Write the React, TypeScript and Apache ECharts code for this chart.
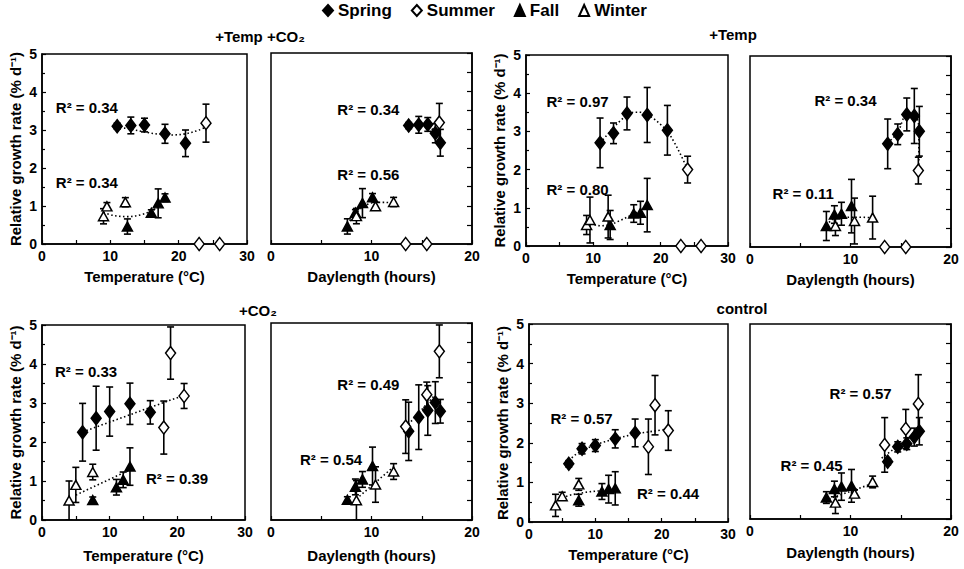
import React, { useEffect, useRef } from "react";
import * as echarts from "echarts";

// ---------- sampling x-values ----------
// ambient water temperature (°C) of each sampling, per season
const springAmbientTemp = [6, 8, 10, 13, 16];
const summerAmbientTemp = [18, 19, 21];
const fallAmbientTemp = [7.5, 11, 12, 13];
const winterAmbientTemp = [4, 5, 7.5];
// warmed temperature (°C)
const springWarmTemp = [11, 13, 15, 18, 21];
const summerWarmTemp = [23, 24, 26];
const fallWarmTemp = [12.5, 16, 17, 18];
const winterWarmTemp = [9, 9.5, 12.2];
// daylength (hours)
const springDaylength = [13.7, 14.7, 15.6, 16.35, 16.85];
const summerDaylength = [13.4, 16.75, 15.5];
const fallDaylength = [7.6, 8.4, 9.1, 10.1];
const winterDaylength = [8.5, 10.4, 12.2];

// ---------- relative growth rate (% d-1) and error ----------
// +Temp +CO2
const tcSpring = [3.1, 3.12, 3.13, 2.9, 2.65];
const tcSpringErr = [0.08, 0.22, 0.18, 0.25, 0.35];
const tcSummer = [0, 3.18, 0];
const tcSummerErr = [0, 0.5, 0];
const tcFall = [0.46, 0.82, 1.07, 1.22];
const tcFallErr = [0.2, 0.08, 0.38, 0.1];
const tcWinter = [0.73, 0.99, 1.1];
const tcWinterErr = [0.2, 0.1, 0.12];
// +Temp
const tSpring = [2.7, 2.95, 3.47, 3.43, 3.03];
const tSpringErr = [0.65, 0.27, 0.43, 0.72, 0.65];
const tSummer = [0, 2.0, 0];
const tSummerErr = [0, 0.35, 0];
const tFall = [0.55, 0.85, 0.87, 1.07];
const tFallErr = [0.38, 0.23, 0.3, 0.7];
const tWinter = [0.55, 0.68, 0.77];
const tWinterErr = [0.25, 0.6, 0.56];
// +CO2
const cSpring = [2.25, 2.61, 2.78, 2.98, 2.76];
const cSpringErr = [0.74, 0.82, 0.63, 0.53, 0.3];
const cSummer = [2.37, 4.28, 3.18];
const cSummerErr = [0.68, 0.67, 0.32];
const cFall = [0.51, 0.84, 1.03, 1.37];
const cFallErr = [0.08, 0.2, 0.2, 0.48];
const cWinter = [0.5, 0.9, 1.23];
const cWinterErr = [0.5, 0.45, 0.2];
// control
const ctSpring = [1.47, 1.85, 1.93, 2.1, 2.25];
const ctSpringErr = [0.08, 0.13, 0.15, 0.23, 0.35];
const ctSummer = [1.9, 2.95, 2.31];
const ctSummerErr = [0.7, 0.75, 0.5];
const ctFall = [0.55, 0.77, 0.83, 0.85];
const ctFallErr = [0.15, 0.2, 0.35, 0.42];
const ctWinter = [0.42, 0.65, 0.95];
const ctWinterErr = [0.28, 0.1, 0.15];

// ---------- fitted trend curves ----------
const p1TrendWarm = [[12, 3.05], [13, 3.02], [15, 2.95], [17, 2.89], [19, 2.87], [21, 2.9], [23, 3.0], [24, 3.08]];
const p1TrendCold = [[9, 0.83], [10.5, 0.75], [12.5, 0.72], [14.5, 0.77], [16, 0.87], [17, 0.98], [18, 1.15]];
const p2TrendWarm = [[13.7, 3.12], [14.7, 3.13], [15.6, 3.08], [16.35, 2.93], [16.85, 2.72]];
const p2TrendCold = [[7.6, 0.52], [8.3, 0.76], [9, 0.94], [9.7, 1.05], [10.4, 1.09], [11.3, 1.09], [12.2, 1.07]];
const p3TrendWarm = [[11, 2.7], [12, 2.9], [13, 3.1], [14, 3.28], [15, 3.42], [16, 3.5], [17, 3.5], [18, 3.44], [19, 3.33], [20, 3.18], [21, 3.0], [22, 2.72], [23, 2.38], [24, 2.0]];
const p3TrendCold = [[9, 0.6], [10, 0.56], [11, 0.53], [12.5, 0.56], [14, 0.67], [16, 0.84], [17, 0.94], [18, 1.05]];
const p4TrendWarm = [[13.7, 2.72], [14.7, 3.0], [15.6, 3.46], [16.35, 3.46], [16.8, 3.1], [16.8, 2.0]];
const p4TrendCold = [[7.6, 0.56], [8.1, 0.7], [8.6, 0.76], [9.5, 0.78], [10.5, 0.78], [12.2, 0.77]];
const p5TrendWarm = [[6, 2.26], [21, 3.2]];
const p5TrendCold = [[5, 0.64], [12.8, 1.27]];
const p6TrendWarm = [[13.4, 2.35], [16.3, 3.17]];
const p6TrendCold = [[8.2, 0.47], [12.2, 1.35]];
const p7TrendWarm = [[6, 1.55], [7, 1.7], [8, 1.8], [10, 1.95], [13, 2.1], [16, 2.22], [19, 2.3], [21, 2.35]];
const p7TrendCold = [[4, 0.5], [5, 0.6], [6, 0.67], [7.5, 0.72], [9, 0.76], [11, 0.79], [13, 0.81]];
const p8TrendWarm = [[13.1, 1.56], [16.8, 2.28]];
const p8TrendCold = [[7.5, 0.48], [12.3, 0.92]];

// ---------- R² annotations [x, y, value] ----------
const p1R2 = [[1.95, 3.58, "0.34"], [1.95, 1.62, "0.34"]];
const p2R2 = [[6.55, 3.53, "0.34"], [6.55, 1.83, "0.56"]];
const p3R2 = [[2.97, 3.78, "0.97"], [2.97, 1.47, "0.80"]];
const p4R2 = [[6.36, 3.84, "0.34"], [2.2, 1.4, "0.11"]];
const p5R2 = [[1.85, 3.8, "0.33"], [15.3, 1.07, "0.39"]];
const p6R2 = [[6.55, 3.43, "0.49"], [2.84, 1.54, "0.54"]];
const p7R2 = [[3.17, 2.62, "0.57"], [16.2, 0.72, "0.44"]];
const p8R2 = [[7.87, 3.23, "0.57"], [2.99, 1.38, "0.45"]];

// ---------- axis ticks / labels ----------
const seasonNames = ["Spring", "Summer", "Fall", "Winter"];
const tempRange = [0, 30];
const dayRange = [0, 20];
const rateRange = [0, 5];
const panelTitles = ["+Temp +CO₂", "+Temp", "+CO₂", "control"];
const tempName = "Temperature (°C)";
const dayName = "Daylength (hours)";
const rateName = "Relative growth rate (% d⁻¹)";

const FONT = "Liberation Sans";

type Treat = { spring: number[][]; summer: number[][]; fall: number[][]; winter: number[][] };
const zip3 = (xs: number[], ys: number[], es: number[]) => xs.map((x, i) => [x, ys[i], es[i]]);

function treatment(
  kind: "temp" | "day",
  warm: boolean,
  sp: number[], spE: number[], su: number[], suE: number[],
  fa: number[], faE: number[], wi: number[], wiE: number[]
): Treat {
  const xs =
    kind === "day"
      ? [springDaylength, summerDaylength, fallDaylength, winterDaylength]
      : warm
      ? [springWarmTemp, summerWarmTemp, fallWarmTemp, winterWarmTemp]
      : [springAmbientTemp, summerAmbientTemp, fallAmbientTemp, winterAmbientTemp];
  return {
    spring: zip3(xs[0], sp, spE),
    summer: zip3(xs[1], su, suE),
    fall: zip3(xs[2], fa, faE),
    winter: zip3(xs[3], wi, wiE),
  };
}

const tcArgs = [tcSpring, tcSpringErr, tcSummer, tcSummerErr, tcFall, tcFallErr, tcWinter, tcWinterErr] as const;
const tArgs = [tSpring, tSpringErr, tSummer, tSummerErr, tFall, tFallErr, tWinter, tWinterErr] as const;
const cArgs = [cSpring, cSpringErr, cSummer, cSummerErr, cFall, cFallErr, cWinter, cWinterErr] as const;
const ctArgs = [ctSpring, ctSpringErr, ctSummer, ctSummerErr, ctFall, ctFallErr, ctWinter, ctWinterErr] as const;

// layout (pixels)
const panels = [
  { grid: { left: 42, top: 54, width: 205, height: 190 }, kind: "temp", nameGap: 25, data: treatment("temp", true, ...(tcArgs as any)), trends: [p1TrendWarm, p1TrendCold], r2: p1R2 },
  { grid: { left: 271, top: 53, width: 201, height: 191 }, kind: "day", nameGap: 25, data: treatment("day", true, ...(tcArgs as any)), trends: [p2TrendWarm, p2TrendCold], r2: p2R2 },
  { grid: { left: 526, top: 55, width: 202, height: 191 }, kind: "temp", nameGap: 25, data: treatment("temp", true, ...(tArgs as any)), trends: [p3TrendWarm, p3TrendCold], r2: p3R2 },
  { grid: { left: 750, top: 56, width: 201, height: 191 }, kind: "day", nameGap: 25, data: treatment("day", true, ...(tArgs as any)), trends: [p4TrendWarm, p4TrendCold], r2: p4R2 },
  { grid: { left: 42, top: 325, width: 203, height: 195 }, kind: "temp", nameGap: 28, data: treatment("temp", false, ...(cArgs as any)), trends: [p5TrendWarm, p5TrendCold], r2: p5R2 },
  { grid: { left: 271, top: 323, width: 201, height: 197 }, kind: "day", nameGap: 28, data: treatment("day", false, ...(cArgs as any)), trends: [p6TrendWarm, p6TrendCold], r2: p6R2 },
  { grid: { left: 529, top: 324, width: 199, height: 198 }, kind: "temp", nameGap: 25, data: treatment("temp", false, ...(ctArgs as any)), trends: [p7TrendWarm, p7TrendCold], r2: p7R2 },
  { grid: { left: 750, top: 324, width: 201, height: 195 }, kind: "day", nameGap: 26, data: treatment("day", false, ...(ctArgs as any)), trends: [p8TrendWarm, p8TrendCold], r2: p8R2 },
];

const titlePos = [
  { x: 260, y: 36 },
  { x: 733, y: 34 },
  { x: 258, y: 310 },
  { x: 742, y: 308 },
];

const seasonStyle: Record<string, any> = {
  Spring: { symbol: "diamond", size: [10, 13], fill: "#000" },
  Summer: { symbol: "diamond", size: [10, 13], fill: "#fff" },
  Fall: { symbol: "triangle", size: [10, 9], fill: "#000" },
  Winter: { symbol: "triangle", size: [10, 9], fill: "#fff" },
};

function errorRender(params: any, api: any) {
  const x = api.value(0);
  const y = api.value(1);
  const e = api.value(2);
  if (!e) return { type: "group", children: [] };
  const top = api.coord([x, y + e]);
  const bot = api.coord([x, y - e]);
  const hw = 3.5;
  const st = { stroke: "#000", lineWidth: 1.6 };
  return {
    type: "group",
    children: [
      { type: "line", shape: { x1: top[0], y1: top[1], x2: bot[0], y2: bot[1] }, style: st },
      { type: "line", shape: { x1: top[0] - hw, y1: top[1], x2: top[0] + hw, y2: top[1] }, style: st },
      { type: "line", shape: { x1: bot[0] - hw, y1: bot[1], x2: bot[0] + hw, y2: bot[1] }, style: st },
    ],
  };
}

function buildOption() {
  const grid: any[] = [];
  const xAxis: any[] = [];
  const yAxis: any[] = [];
  const series: any[] = [];
  const axisText = { color: "#000", fontFamily: FONT, fontWeight: "bold", fontSize: 14 };
  const nameText = { color: "#000", fontFamily: FONT, fontWeight: "bold", fontSize: 15 };

  panels.forEach((p, i) => {
    const isTemp = p.kind === "temp";
    grid.push({ ...p.grid, show: true, borderColor: "#000", borderWidth: 1.5, backgroundColor: "transparent" });
    const xr = isTemp ? tempRange : dayRange;
    xAxis.push({
      gridIndex: i,
      type: "value",
      min: xr[0],
      max: xr[1],
      interval: 10,
      axisLine: { show: true, onZero: false, lineStyle: { color: "#000", width: 1.5 } },
      axisTick: { show: true, inside: true, length: 4, lineStyle: { color: "#000", width: 1.2 } },
      minorTick: { show: true, splitNumber: 2, length: 4, lineStyle: { color: "#000", width: 1.2 } },
      axisLabel: { ...axisText, margin: 5 },
      splitLine: { show: false },
      name: isTemp ? tempName : dayName,
      nameLocation: "middle",
      nameGap: p.nameGap,
      nameTextStyle: nameText,
    });
    if (isTemp) {
      yAxis.push({
        gridIndex: i,
        type: "value",
        min: rateRange[0],
        max: rateRange[1],
        interval: 1,
        axisLine: { show: true, onZero: false, lineStyle: { color: "#000", width: 1.5 } },
        axisTick: { show: true, inside: true, length: 4, lineStyle: { color: "#000", width: 1.2 } },
        minorTick: { show: true, splitNumber: 2, length: 3, lineStyle: { color: "#000", width: 1.2 } },
        axisLabel: { ...axisText, margin: 5 },
        splitLine: { show: false },
        name: rateName,
        nameLocation: "middle",
        nameGap: 19,
        nameTextStyle: nameText,
      });
    } else {
      yAxis.push({
        gridIndex: i,
        type: "value",
        position: "right",
        min: rateRange[0],
        max: rateRange[1],
        interval: 0.5,
        axisLine: { show: true, onZero: false, lineStyle: { color: "#000", width: 1.5 } },
        axisTick: { show: true, inside: true, length: 5, lineStyle: { color: "#000", width: 1.2 } },
        axisLabel: { show: false },
        splitLine: { show: false },
      });
    }

    const all = [...p.data.spring, ...p.data.summer, ...p.data.fall, ...p.data.winter];
    series.push({
      type: "custom",
      xAxisIndex: i,
      yAxisIndex: i,
      renderItem: errorRender,
      data: all,
      encode: { x: 0, y: 1 },
      clip: true,
      z: 1,
      silent: true,
    });
    p.trends.forEach((t) => {
      series.push({
        type: "line",
        xAxisIndex: i,
        yAxisIndex: i,
        data: t,
        smooth: t.length > 2 ? 0.35 : false,
        symbol: "none",
        lineStyle: { color: "#000", width: 1.6, type: [1.5, 2.5] },
        z: 2,
        silent: true,
      });
    });
    const groups: Record<string, number[][]> = {
      Spring: p.data.spring,
      Summer: p.data.summer,
      Fall: p.data.fall,
      Winter: p.data.winter,
    };
    seasonNames.forEach((s) => {
      const st = seasonStyle[s];
      series.push({
        type: "scatter",
        name: s,
        xAxisIndex: i,
        yAxisIndex: i,
        data: groups[s].map((d) => [d[0], d[1]]),
        symbol: st.symbol,
        symbolSize: st.size,
        itemStyle: { color: st.fill, borderColor: "#000", borderWidth: 1.5, opacity: 1 },
        z: 3,
        clip: false,
      });
    });
    series.push({
      type: "scatter",
      xAxisIndex: i,
      yAxisIndex: i,
      data: p.r2,
      symbolSize: 1,
      itemStyle: { color: "rgba(0,0,0,0)", opacity: 1 },
      label: {
        show: true,
        position: "right",
        distance: 0,
        formatter: (q: any) => "R² = " + q.value[2],
        color: "#000",
        opacity: 1,
        textBorderWidth: 0,
        fontFamily: FONT,
        fontWeight: "bold",
        fontSize: 15,
      },
      z: 4,
      silent: true,
    });
  });

  return {
    animation: false,
    backgroundColor: "#fff",
    legend: {
      data: seasonNames,
      left: 322,
      top: 2,
      padding: 0,
      itemGap: 19,
      itemWidth: 10,
      itemHeight: 11,
      selectedMode: false,
      textStyle: { color: "#000", fontFamily: FONT, fontWeight: "bold", fontSize: 17 },
    },
    graphic: panelTitles.map((t, k) => ({
      type: "text",
      x: titlePos[k].x,
      y: titlePos[k].y,
      style: {
        text: t,
        fill: "#000",
        font: `bold 15px "${FONT}"`,
        align: "center",
        verticalAlign: "middle",
      },
    })),
    grid,
    xAxis,
    yAxis,
    series,
  };
}

export default function App() {
  const ref = useRef<HTMLDivElement>(null);
  useEffect(() => {
    if (!ref.current) return;
    const chart = echarts.init(ref.current, undefined, { renderer: "svg" });
    chart.setOption(buildOption() as any);
    return () => chart.dispose();
  }, []);
  return (
    <div
      ref={ref}
      style={{ position: "fixed", left: 0, top: 0, width: 964, height: 569, background: "#fff" }}
    />
  );
}
